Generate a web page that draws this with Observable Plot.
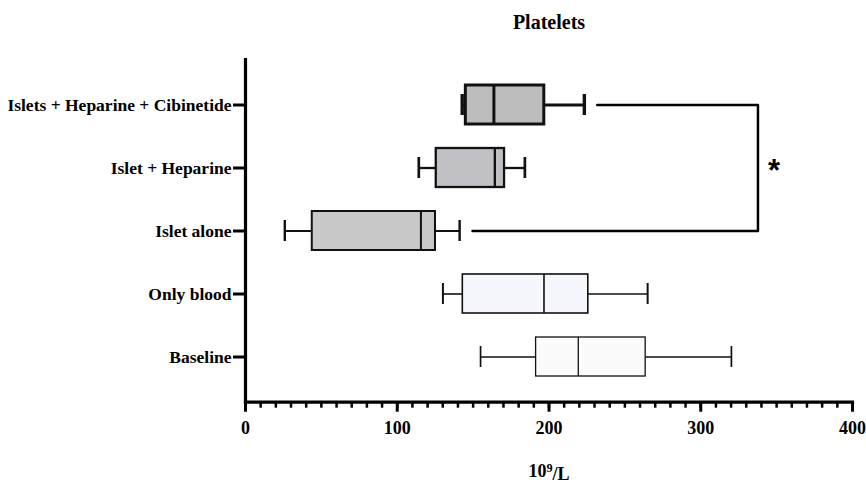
<!DOCTYPE html>
<html>
<head>
<meta charset="utf-8">
<script src="https://cdn.jsdelivr.net/npm/d3@7"></script>
<script src="https://cdn.jsdelivr.net/npm/@observablehq/plot@0.6"></script>
<style>
  html, body { margin: 0; padding: 0; background: #fff; }
</style>
</head>
<body>
<div id="chart"></div>
<script>
// ---- data ----
const groups = ["Islets + Heparine + Cibinetide", "Islet + Heparine", "Islet alone", "Only blood", "Baseline"];
const minV = [142.8, 114.2, 25.9, 130.1, 154.9];
const q1V  = [145.2, 125.7, 44.0, 143.2, 191.5];
const medV = [163.7, 164.3, 115.6, 196.7, 219.3];
const q3V  = [196.9, 170.7, 125.2, 225.9, 263.7];
const maxV = [223.3, 184.1, 141.1, 265.0, 320.2];
const xTicks = [0, 100, 200, 300, 400];
const titleText = "Platelets";
const xLabel = "10\u2079/L";
// significance bracket: between first and third group
const sigFrom = "Islets + Heparine + Cibinetide";
const sigTo = "Islet alone";
const sigMid = "Islet + Heparine";
const sigStartTop = 231.8;
const sigStartBottom = 149.6;
const sigRight = 337.7;
const sigMark = "*";

// ---- styles ----
const fills = ["#bdbdbd", "#c1c0c4", "#c8c8c8", "#f5f7fc", "#fbfbfb"];
const lineW = [3, 2.3, 2, 1.6, 1.3];

const data = groups.map((g, i) => ({
  g, min: minV[i], q1: q1V[i], med: medV[i], q3: q3V[i], max: maxV[i],
  fill: fills[i], sw: lineW[i]
}));

const bracket = [
  {x: sigStartTop, g: sigFrom},
  {x: sigRight, g: sigFrom},
  {x: sigRight, g: sigTo},
  {x: sigStartBottom, g: sigTo}
];
const sigLabel = [{x: sigRight, g: sigMid, t: sigMark}];

const font = "'Liberation Serif', 'Times New Roman', serif";

const chart = Plot.plot({
  width: 866,
  height: 488,
  marginLeft: 245,
  marginRight: 14,
  marginTop: 59,
  marginBottom: 86.3,
  style: {fontFamily: font, fontWeight: "bold", background: "#fff", color: "#000"},
  x: {domain: [0, 400], label: null},
  y: {type: "band", domain: groups, paddingInner: 0.375, paddingOuter: 0.365, label: null},
  marks: [
    // whiskers
    Plot.ruleY(data, {y: "g", x1: "min", x2: "q1", stroke: "#111", strokeWidth: d => d.sw}),
    Plot.ruleY(data, {y: "g", x1: "q3", x2: "max", stroke: "#111", strokeWidth: d => d.sw}),
    Plot.tickX(data, {y: "g", x: "min", stroke: "#111", strokeWidth: d => d.sw + 0.4, insetTop: 9, insetBottom: 9}),
    Plot.tickX(data, {y: "g", x: "max", stroke: "#111", strokeWidth: d => d.sw + 0.4, insetTop: 9, insetBottom: 9}),
    // boxes
    Plot.barX(data, {y: "g", x1: "q1", x2: "q3", fill: "fill", stroke: "#111", strokeWidth: d => d.sw}),
    Plot.tickX(data, {y: "g", x: "med", stroke: "#111", strokeWidth: d => d.sw}),
    // significance bracket
    Plot.line(bracket, {x: "x", y: "g", stroke: "#000", strokeWidth: 2.5, curve: "linear"}),
    Plot.text(sigLabel, {x: "x", y: "g", text: "t", dx: 16, dy: 3, fontSize: 31, fontFamily: "'Liberation Sans', Arial, sans-serif", fontWeight: "bold", fill: "#000"}),
    // axes
    Plot.frame({anchor: "left", stroke: "#000", strokeWidth: 3.2}),
    Plot.frame({anchor: "bottom", stroke: "#000", strokeWidth: 3.2}),
    Plot.axisY({tickSize: 12, tickPadding: 2, fontSize: 17.5, strokeWidth: 3, stroke: "#000", fill: "#000", label: null}),
    Plot.axisX({ticks: d3.range(0, 401, 10), tickSize: 6, strokeWidth: 2.5, text: null, label: null, stroke: "#000"}),
    Plot.axisX({ticks: xTicks, tickSize: 10, tickPadding: 9, fontSize: 18, strokeWidth: 3, stroke: "#000", fill: "#000", label: null}),
    // title and axis label
    Plot.text([titleText], {frameAnchor: "top", lineAnchor: "middle", dy: -37, fontSize: 20, fill: "#000", text: d => d}),
    Plot.text([xLabel], {frameAnchor: "bottom", lineAnchor: "middle", dy: 69.5, fontSize: 18, fill: "#000", text: d => d})
  ]
});

document.getElementById("chart").appendChild(chart);

// render the exponent of the axis label as a real superscript
d3.select(chart).selectAll("text").each(function() {
  if (this.textContent === xLabel) {
    const t = d3.select(this);
    t.text(null);
    t.append("tspan").text("10");
    t.append("tspan").attr("dy", "-0.42em").attr("font-size", "0.68em").text("9");
    t.append("tspan").attr("dy", "0.42em").text("/L");
  }
});
</script>
</body>
</html>
